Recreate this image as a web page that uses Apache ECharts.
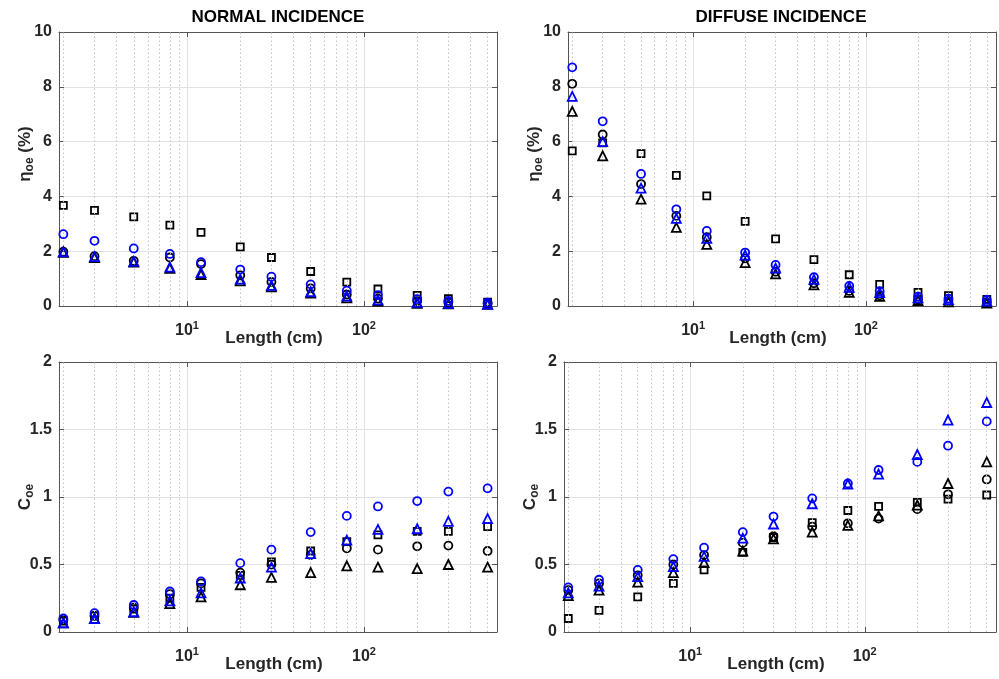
<!DOCTYPE html>
<html><head><meta charset="utf-8">
<script src="https://cdn.jsdelivr.net/npm/echarts@6/dist/echarts.min.js"></script>
<style>html,body{margin:0;padding:0;background:#fff}#c{width:999px;height:679px}</style>
</head><body><div id="c"></div>
<script>
// ---- data ----
const lengths = [2, 3, 5, 8, 12, 20, 30, 50, 80, 120, 200, 300, 500];
const minorGrid = [2, 3, 4, 5, 6, 7, 8, 9, 20, 30, 40, 50, 60, 70, 80, 90, 200, 300, 400, 500];
const panelTitles = ['NORMAL INCIDENCE', 'DIFFUSE INCIDENCE'];

// Normal incidence, eta_oe (%)
const normEffSquareK = [3.67, 3.49, 3.25, 2.95, 2.69, 2.16, 1.77, 1.26, 0.87, 0.62, 0.39, 0.27, 0.14];
const normEffCircleK = [1.98, 1.82, 1.65, 1.77, 1.53, 1.12, 0.88, 0.64, 0.42, 0.27, 0.18, 0.13, 0.08];
const normEffTriK    = [1.96, 1.77, 1.60, 1.37, 1.15, 0.92, 0.70, 0.47, 0.30, 0.18, 0.10, 0.08, 0.06];
const normEffCircleB = [2.62, 2.38, 2.10, 1.90, 1.60, 1.33, 1.07, 0.79, 0.56, 0.40, 0.25, 0.19, 0.12];
const normEffTriB    = [1.98, 1.80, 1.63, 1.42, 1.22, 0.98, 0.75, 0.52, 0.36, 0.22, 0.13, 0.10, 0.07];

// Diffuse incidence, eta_oe (%)
const diffEffSquareK = [5.66, 5.95, 5.56, 4.77, 4.02, 3.09, 2.45, 1.69, 1.14, 0.79, 0.50, 0.38, 0.24];
const diffEffCircleK = [8.11, 6.26, 4.45, 3.29, 2.51, 1.74, 1.25, 0.83, 0.55, 0.39, 0.24, 0.18, 0.13];
const diffEffTriK    = [7.10, 5.48, 3.90, 2.87, 2.25, 1.58, 1.17, 0.77, 0.50, 0.35, 0.20, 0.15, 0.11];
const diffEffCircleB = [8.71, 6.74, 4.82, 3.53, 2.74, 1.95, 1.50, 1.05, 0.73, 0.54, 0.34, 0.27, 0.22];
const diffEffTriB    = [7.65, 6.00, 4.30, 3.20, 2.47, 1.86, 1.38, 0.97, 0.68, 0.49, 0.30, 0.23, 0.18];

// Normal incidence, C_oe
const normCSquareK = [0.08, 0.12, 0.17, 0.25, 0.33, 0.42, 0.52, 0.60, 0.67, 0.72, 0.745, 0.745, 0.78];
const normCCircleK = [0.09, 0.12, 0.18, 0.28, 0.36, 0.44, 0.50, 0.57, 0.62, 0.61, 0.635, 0.64, 0.60];
const normCTriK    = [0.067, 0.10, 0.146, 0.21, 0.26, 0.35, 0.405, 0.44, 0.49, 0.48, 0.47, 0.50, 0.48];
const normCCircleB = [0.10, 0.14, 0.20, 0.30, 0.375, 0.51, 0.61, 0.74, 0.86, 0.93, 0.97, 1.04, 1.064];
const normCTriB    = [0.067, 0.10, 0.15, 0.23, 0.29, 0.40, 0.48, 0.58, 0.68, 0.76, 0.765, 0.82, 0.84];

// Diffuse incidence, C_oe
const diffCSquareK = [0.10, 0.16, 0.26, 0.36, 0.46, 0.59, 0.70, 0.81, 0.90, 0.93, 0.96, 0.985, 1.015];
const diffCCircleK = [0.31, 0.36, 0.42, 0.50, 0.57, 0.66, 0.71, 0.78, 0.805, 0.84, 0.91, 1.02, 1.13];
const diffCTriK    = [0.27, 0.31, 0.37, 0.44, 0.515, 0.60, 0.69, 0.74, 0.79, 0.86, 0.94, 1.10, 1.26];
const diffCCircleB = [0.33, 0.387, 0.46, 0.54, 0.625, 0.74, 0.855, 0.99, 1.10, 1.20, 1.26, 1.38, 1.56];
const diffCTriB    = [0.29, 0.34, 0.41, 0.485, 0.56, 0.695, 0.80, 0.95, 1.096, 1.17, 1.315, 1.57, 1.70];

// ---- layout / style ----
const FONT = '"Liberation Sans", Arial, sans-serif';
const TXT = '#262626';
const AX = '#555555';
const GRIDC = '#e2e2e2';
const BLUE = '#0000ff';
const BLACK = '#000000';

const grids = [
  { left: 59, top: 32, width: 438, height: 274 },
  { left: 568, top: 32, width: 438, height: 274 },
  { left: 59, top: 362, width: 438, height: 270 },
  { left: 564, top: 362, width: 441, height: 270 }
];
const yRanges = [[0, 10, 2], [0, 10, 2], [0, 2, 0.5], [0, 2, 0.5]];
const yNames = ['{a|η}{s|oe}{a| (%)}', '{a|η}{s|oe}{a| (%)}', '{a|C}{s|oe}', '{a|C}{s|oe}'];
const yNamePad = [[0, 0, 0, 30], [0, 0, 0, 30], [0, 0, 0, 0], [0, 0, 0, 0]];
const panelData = [
  [normEffSquareK, normEffCircleK, normEffTriK, normEffCircleB, normEffTriB],
  [diffEffSquareK, diffEffCircleK, diffEffTriK, diffEffCircleB, diffEffTriB],
  [normCSquareK, normCCircleK, normCTriK, normCCircleB, normCTriB],
  [diffCSquareK, diffCCircleK, diffCTriK, diffCCircleB, diffCTriB]
];
const markers = [
  { symbol: 'rect', size: 7, color: BLACK },
  { symbol: 'circle', size: 8, color: BLACK },
  { symbol: 'triangle', size: 9, color: BLACK },
  { symbol: 'circle', size: 8, color: BLUE },
  { symbol: 'triangle', size: 9, color: BLUE }
];
const XMIN = 1.89, XMAX = 565;

const xAxes = [], yAxes = [], series = [];
grids.forEach((g, i) => {
  xAxes.push({
    type: 'log', logBase: 10, gridIndex: i, min: XMIN, max: XMAX, position: 'bottom',
    axisLine: { show: true, onZero: false, lineStyle: { color: AX, width: 1 } },
    axisTick: { show: true, inside: true, length: 5, lineStyle: { color: AX } },
    axisLabel: {
      margin: 14,
      formatter: function (v) {
        const e = Math.round(Math.log10(v));
        if (Math.abs(Math.log10(v) - e) > 1e-6) return '';
        return '{b|10}{s|' + e + '}';
      },
      rich: {
        b: { fontFamily: FONT, fontSize: 16, fontWeight: 'bold', color: TXT, lineHeight: 22, verticalAlign: 'middle' },
        s: { fontFamily: FONT, fontSize: 11, fontWeight: 'bold', color: TXT, lineHeight: 11, verticalAlign: 'top' }
      }
    },
    splitLine: { show: true, lineStyle: { color: GRIDC, width: 1 } },
    name: 'Length (cm)', nameLocation: 'middle', nameGap: 24, nameMoveOverlap: false,
    nameTextStyle: { fontFamily: FONT, fontSize: 17, fontWeight: 'bold', color: TXT, padding: [0, 8, 0, 0] }
  });
  xAxes.push({
    type: 'log', logBase: 10, gridIndex: i, min: XMIN, max: XMAX, position: 'top',
    axisLine: { show: true, onZero: false, lineStyle: { color: AX, width: 1 } },
    axisTick: { show: true, inside: true, length: 5, lineStyle: { color: AX } },
    axisLabel: { show: false }, splitLine: { show: false }
  });
  const yr = yRanges[i];
  yAxes.push({
    type: 'value', gridIndex: i, min: yr[0], max: yr[1], interval: yr[2], position: 'left',
    axisLine: { show: true, onZero: false, lineStyle: { color: AX, width: 1 } },
    axisTick: { show: true, inside: true, length: 5, lineStyle: { color: AX } },
    axisLabel: { margin: 7, fontFamily: FONT, fontSize: 16, fontWeight: 'bold', color: TXT },
    splitLine: { show: true, lineStyle: { color: GRIDC, width: 1 } },
    name: yNames[i], nameLocation: 'middle', nameGap: 23, nameRotate: 90, nameMoveOverlap: false,
    nameTextStyle: {
      padding: yNamePad[i],
      rich: {
        a: { fontFamily: FONT, fontSize: 17, fontWeight: 'bold', color: TXT, lineHeight: 22, verticalAlign: 'middle' },
        s: { fontFamily: FONT, fontSize: 12, fontWeight: 'bold', color: TXT, lineHeight: 12, verticalAlign: 'bottom' }
      }
    }
  });
  yAxes.push({
    type: 'value', gridIndex: i, min: yr[0], max: yr[1], interval: yr[2], position: 'right',
    axisLine: { show: true, onZero: false, lineStyle: { color: AX, width: 1 } },
    axisTick: { show: true, inside: true, length: 5, lineStyle: { color: AX } },
    axisLabel: { show: false }, splitLine: { show: false }
  });
  panelData[i].forEach((vals, k) => {
    const m = markers[k];
    const s = {
      type: 'scatter', xAxisIndex: 2 * i, yAxisIndex: 2 * i,
      symbol: m.symbol, symbolSize: m.size,
      itemStyle: { color: 'rgba(0,0,0,0)', borderColor: m.color, borderWidth: 1.8, opacity: 1 },
      data: lengths.map((x, j) => [x, vals[j]]),
      z: 3 + k
    };
    if (k === 0) {
      s.markLine = {
        silent: true, symbol: ['none', 'none'], animation: false,
        label: { show: false },
        lineStyle: { type: [1.5, 2.5], color: '#c4c4c4', width: 1 },
        emphasis: { disabled: true },
        data: minorGrid.map(v => ({ xAxis: v }))
      };
    }
    series.push(s);
  });
});

const chart = echarts.init(document.getElementById('c'), null, { renderer: 'canvas' });
chart.setOption({
  animation: false,
  backgroundColor: '#ffffff',
  grid: grids,
  xAxis: xAxes,
  yAxis: yAxes,
  series: series,
  graphic: [
    { type: 'text', x: 278, y: 17, style: { text: panelTitles[0], textAlign: 'center', textVerticalAlign: 'middle', fill: '#000', font: 'bold 17px ' + FONT } },
    { type: 'text', x: 781, y: 17, style: { text: panelTitles[1], textAlign: 'center', textVerticalAlign: 'middle', fill: '#000', font: 'bold 17px ' + FONT } }
  ]
});
</script>
</body></html>
